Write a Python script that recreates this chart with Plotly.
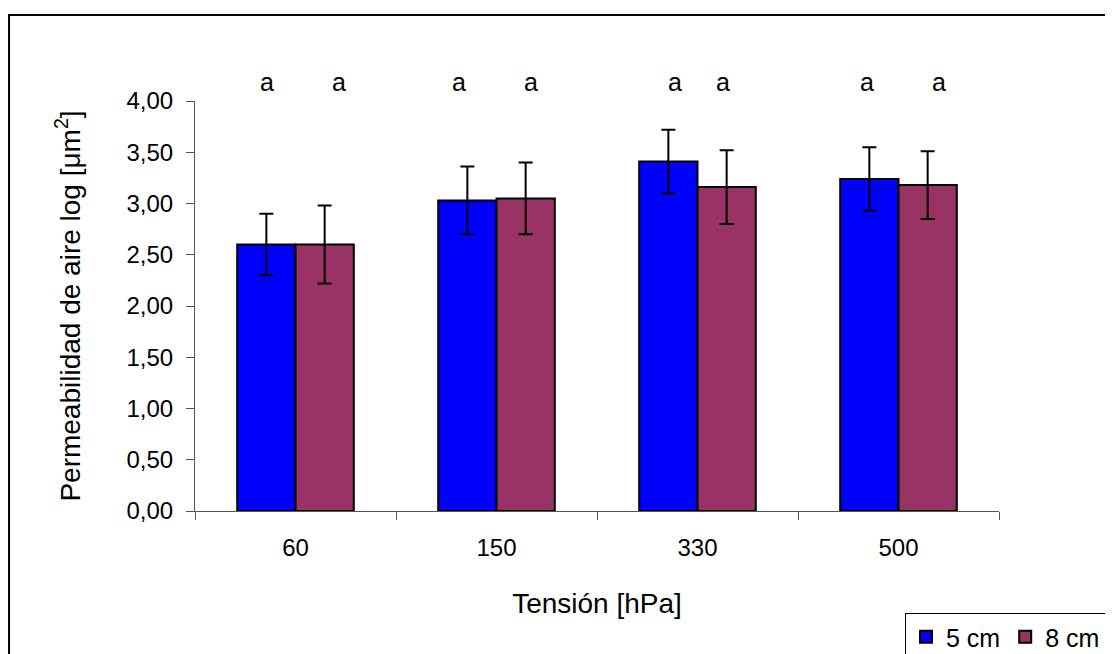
import plotly.graph_objects as go

categories = ["60", "150", "330", "500"]
vals_5cm = [2.60, 3.03, 3.41, 3.24]
err_5cm = [0.30, 0.33, 0.31, 0.31]
vals_8cm = [2.60, 3.05, 3.16, 3.18]
err_8cm = [0.38, 0.35, 0.36, 0.33]
letters_5cm = ["a", "a", "a", "a"]
letters_8cm = ["a", "a", "a", "a"]
y_ticks = [0, 0.5, 1, 1.5, 2, 2.5, 3, 3.5, 4]
y_tick_text = ["0,00", "0,50", "1,00", "1,50", "2,00", "2,50", "3,00", "3,50", "4,00"]
y_max = 4.0
letter_level = 4.19  # height of the significance letters, in axis units

font_family = "Liberation Sans, Arial, sans-serif"

fig = go.Figure()
fig.add_trace(go.Bar(
    x=categories, y=vals_5cm, name="5 cm",
    marker=dict(color="#0000ff", line=dict(color="black", width=2)),
    error_y=dict(type="data", array=err_5cm, visible=True, color="black", thickness=2, width=7),
))
fig.add_trace(go.Bar(
    x=categories, y=vals_8cm, name="8 cm",
    marker=dict(color="#993366", line=dict(color="black", width=2)),
    error_y=dict(type="data", array=err_8cm, visible=True, color="black", thickness=2, width=7),
))

# letter annotations above each bar (x at category centre in paper units, shifted to bars)
n = len(categories)
shifts_5 = [0, -9, 6, -3]
shifts_8 = [14, 5, -4, 11]
for i in range(n):
    xc = (i + 0.5) / n
    yc = letter_level / y_max
    fig.add_annotation(xref="paper", yref="paper", x=xc, y=yc, text=letters_5cm[i], showarrow=False,
                       xanchor="center", yanchor="middle",
                       xshift=-29 + shifts_5[i], font=dict(size=25, color="black", family=font_family))
    fig.add_annotation(xref="paper", yref="paper", x=xc, y=yc, text=letters_8cm[i], showarrow=False,
                       xanchor="center", yanchor="middle",
                       xshift=29 + shifts_8[i], font=dict(size=25, color="black", family=font_family))

# outer frame
fig.add_shape(type="rect", xref="paper", yref="paper",
              x0=-0.2313, x1=1.138, y0=-0.45, y1=1.2098,
              line=dict(color="black", width=2), fillcolor="rgba(0,0,0,0)", layer="below")

fig.update_layout(
    width=1113, height=680,
    margin=dict(l=187, r=122, t=93, b=177),
    paper_bgcolor="white", plot_bgcolor="white",
    barmode="group", bargap=0.42, bargroupgap=0,
    font=dict(family=font_family, size=24, color="black"),
    showlegend=True,
    legend=dict(orientation="h", x=1.1331, xanchor="right", y=-0.2488, yanchor="top",
                bordercolor="black", borderwidth=1, bgcolor="white",
                font=dict(size=25, family=font_family), itemwidth=30,
                tracegroupgap=0),
    xaxis=dict(type="category", range=[-0.5, 3.5], tickson="boundaries", ticks="outside", ticklen=8,
               tickcolor="#555", tickwidth=1, showline=True, linecolor="#555", linewidth=1,
               showgrid=False, ticklabelstandoff=15, automargin=False,
               title=dict(text="Tensión [hPa]", font=dict(size=28), standoff=33)),
    yaxis=dict(range=[0, y_max], tickvals=y_ticks, ticktext=y_tick_text, ticks="outside",
               ticklen=8, tickcolor="#555", tickwidth=1, showline=True, linecolor="#555",
               linewidth=1, showgrid=False, zeroline=False, ticklabelstandoff=8, automargin=False,
               title=dict(text="Permeabilidad de aire log [μm<sup>2</sup>]", font=dict(size=28), standoff=37)),
)

fig.write_html("out.html")
